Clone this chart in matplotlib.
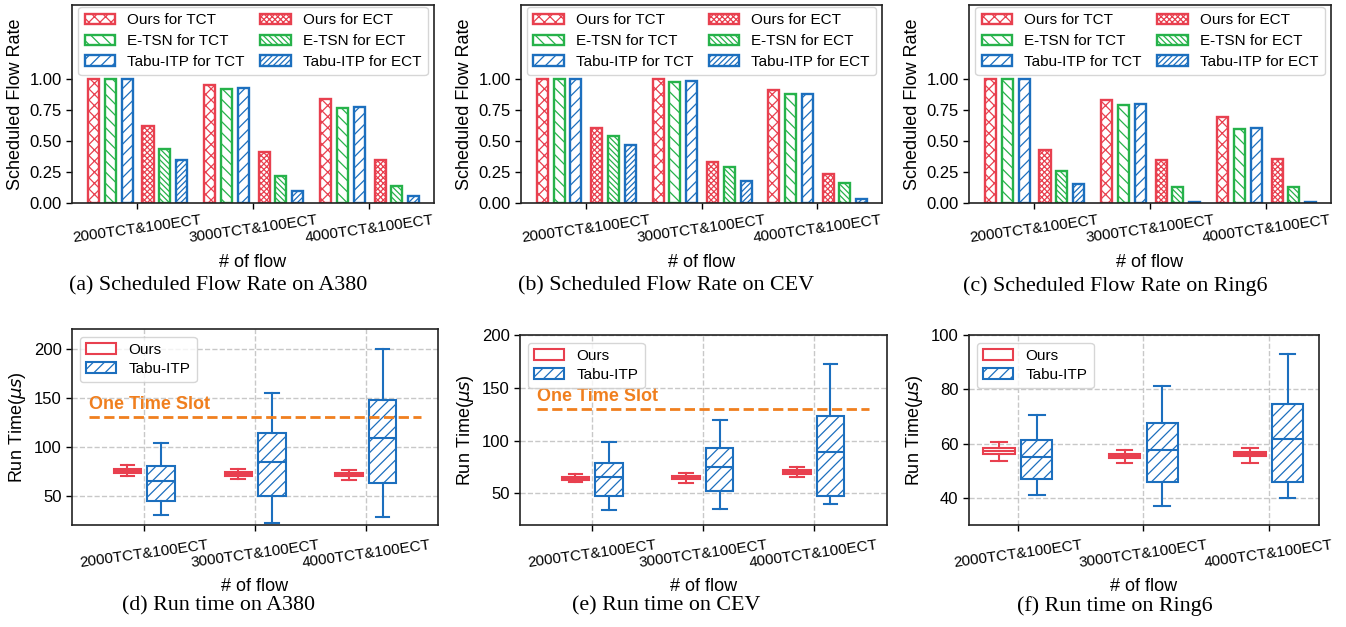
import matplotlib
matplotlib.use("Agg")
import matplotlib.pyplot as plt
from matplotlib.patches import Patch
import numpy as np

plt.rcParams['font.family'] = ['Liberation Sans', 'DejaVu Sans']
plt.rcParams['hatch.linewidth'] = 0.9

# ---------------- data ----------------
groups = ["2000TCT&100ECT", "3000TCT&100ECT", "4000TCT&100ECT"]
methods = ["Ours", "E-TSN", "Tabu-ITP"]

# Scheduled flow rate (TCT / ECT), per topology
a380_tct = {"Ours": [1.00, 0.954, 0.839], "E-TSN": [1.00, 0.925, 0.769], "Tabu-ITP": [1.00, 0.928, 0.777]}
a380_ect = {"Ours": [0.625, 0.410, 0.351], "E-TSN": [0.437, 0.217, 0.139], "Tabu-ITP": [0.349, 0.094, 0.054]}
cev_tct = {"Ours": [1.00, 1.00, 0.917], "E-TSN": [1.00, 0.981, 0.877], "Tabu-ITP": [1.00, 0.987, 0.882]}
cev_ect = {"Ours": [0.609, 0.330, 0.231], "E-TSN": [0.542, 0.287, 0.158], "Tabu-ITP": [0.472, 0.174, 0.032]}
ring_tct = {"Ours": [1.00, 0.836, 0.694], "E-TSN": [1.00, 0.791, 0.598], "Tabu-ITP": [1.00, 0.799, 0.603]}
ring_ect = {"Ours": [0.429, 0.346, 0.359], "E-TSN": [0.255, 0.126, 0.126], "Tabu-ITP": [0.155, 0.007, 0.007]}

# Run time box statistics: (whislo, q1, med, q3, whishi)
a380_ours = [(70.1, 73.2, 75.2, 77.3, 81.4), (67.4, 70.4, 72.1, 73.9, 77.3), (66.0, 69.8, 71.5, 72.8, 76.2)]
a380_tabu = [(29.9, 44.9, 64.6, 80.7, 103.9), (22.0, 49.3, 84.4, 113.4, 155.0), (28.2, 63.3, 109.0, 147.5, 200.0)]
cev_ours = [(60.4, 62.3, 63.9, 65.5, 68.6), (60.1, 63.3, 64.9, 66.7, 69.3), (65.5, 68.0, 69.9, 71.8, 74.6)]
cev_tabu = [(34.5, 47.5, 65.5, 78.7, 98.6), (35.2, 51.9, 75.0, 93.3, 119.2), (40.2, 47.2, 88.9, 123.6, 172.8)]
ring_ours = [(53.5, 56.1, 57.1, 58.2, 60.5), (52.8, 54.6, 55.5, 56.2, 57.6), (52.9, 55.3, 56.1, 57.0, 58.4)]
ring_tabu = [(41.0, 46.9, 54.9, 61.4, 70.5), (36.9, 45.9, 57.8, 67.4, 81.2), (40.1, 45.9, 61.6, 74.6, 93.0)]
time_slot = 130

captions_top = ["(a) Scheduled Flow Rate on A380", "(b) Scheduled Flow Rate on CEV", "(c) Scheduled Flow Rate on Ring6"]
captions_bot = ["(d) Run time on A380", "(e) Run time on CEV", "(f) Run time on Ring6"]

# ---------------- style ----------------
RED = '#E8404F'
GREEN = '#26B24A'
BLUE = '#1C6FBE'
ORANGE = '#F07F1E'
colors = {"Ours": RED, "E-TSN": GREEN, "Tabu-ITP": BLUE}
hatch_tct = {"Ours": 'xxx', "E-TSN": '\\\\\\', "Tabu-ITP": '///'}
hatch_ect = {"Ours": 'xxxxxx', "E-TSN": '\\\\\\\\\\\\', "Tabu-ITP": '//////'}
off_tct = [-0.375, -0.23, -0.085]
off_ect = [0.095, 0.24, 0.385]
caption_cx = [218, 666, 1115]

W, H = 1346, 627
fig = plt.figure(figsize=(W / 100, H / 100), dpi=100)


def add_ax(l, r, t, b):
    return fig.add_axes([l / W, 1 - b / H, (r - l) / W, (b - t) / H])


def style_ax(ax):
    for s in ax.spines.values():
        s.set_linewidth(1.2)
        s.set_color('#222222')
    ax.tick_params(axis='y', labelsize=12, length=4, width=1)
    ax.tick_params(axis='x', labelsize=11, length=4, width=1)


top_boxes = [(72, 434), (521, 882), (969, 1331)]
top_data = [(a380_tct, a380_ect), (cev_tct, cev_ect), (ring_tct, ring_ect)]
x = np.arange(len(groups))

for i, ((l, r), (tct, ect)) in enumerate(zip(top_boxes, top_data)):
    ax = add_ax(l, r, 5, 203)
    handles = []
    for j, m in enumerate(methods):
        h = ax.bar(x + off_tct[j], tct[m], width=0.095, facecolor='white',
                   edgecolor=colors[m], hatch=hatch_tct[m], linewidth=1.7,
                   label=f"{m} for TCT")
        handles.append(h)
    for j, m in enumerate(methods):
        h = ax.bar(x + off_ect[j], ect[m], width=0.095, facecolor='white',
                   edgecolor=colors[m], hatch=hatch_ect[m], linewidth=1.7,
                   label=f"{m} for ECT")
        handles.append(h)
    ax.set_xlim(-0.56, 2.56)
    ax.set_ylim(0, 1.6)
    ax.set_yticks([0, 0.25, 0.5, 0.75, 1.0])
    ax.set_yticklabels(["0.00", "0.25", "0.50", "0.75", "1.00"])
    ax.set_xticks(x)
    ax.set_xticklabels(groups, rotation=8, ha='center')
    ax.set_xlabel("# of flow", fontsize=13, labelpad=6)
    ax.set_ylabel("Scheduled Flow Rate", fontsize=13)
    style_ax(ax)
    ax.legend(handles=handles, ncol=2, loc='upper center', fontsize=11,
              borderaxespad=0.15, labelspacing=0.45, columnspacing=1.0,
              handletextpad=0.8, framealpha=0.8)
    fig.text(caption_cx[i] / W, 1 - 286 / H, captions_top[i], ha='center', va='center',
             fontsize=15.8, family='Liberation Serif')

bot_boxes = [(72, 438, 329), (520, 887, 335), (969, 1319, 335)]
bot_data = [(a380_ours, a380_tabu), (cev_ours, cev_tabu), (ring_ours, ring_tabu)]
bot_xlim = [(-0.65, 2.65), (-0.65, 2.66), (-0.39, 2.4)]
bot_ylim = [(20, 220), (20, 200), (30, 100)]
bot_yticks = [[50, 100, 150, 200], [50, 100, 150, 200], [40, 60, 80, 100]]
show_slot = [True, True, False]


def stats(lst):
    return [dict(whislo=s[0], q1=s[1], med=s[2], q3=s[3], whishi=s[4]) for s in lst]


for i, ((l, r, t), (ours, tabu)) in enumerate(zip(bot_boxes, bot_data)):
    ax = add_ax(l, r, t, 525)
    ax.grid(True, linestyle='--', color='#c8c8c8', linewidth=1.0, zorder=0)
    ax.set_axisbelow(True)
    for data, col, off, hatch in [(ours, RED, -0.15, None), (tabu, BLUE, 0.15, '///')]:
        ax.bxp(stats(data), positions=x + off, widths=0.25, patch_artist=True,
               showfliers=False,
               boxprops=dict(facecolor='white', edgecolor=col, linewidth=1.5, hatch=hatch),
               whiskerprops=dict(color=col, linewidth=1.5),
               capprops=dict(color=col, linewidth=1.5),
               medianprops=dict(color=col, linewidth=1.5))
    if show_slot[i]:
        ax.hlines(time_slot, -0.5, 2.5, colors=ORANGE, linestyles='--', linewidth=2, zorder=3)
        ax.text(-0.5, time_slot + 4, "One Time Slot", color=ORANGE, fontweight='bold',
                fontsize=13, ha='left', va='bottom')
    ax.set_xlim(*bot_xlim[i])
    ax.set_ylim(*bot_ylim[i])
    ax.set_yticks(bot_yticks[i])
    ax.set_xticks(x)
    ax.set_xticklabels(groups, rotation=8, ha='center')
    ax.set_xlabel("# of flow", fontsize=13, labelpad=6)
    ax.set_ylabel(r"Run Time($\mu s$)", fontsize=13)
    style_ax(ax)
    ax.tick_params(axis='x', pad=5.5)
    lh = [Patch(facecolor='white', edgecolor=RED, linewidth=1.5, label='Ours'),
          Patch(facecolor='white', edgecolor=BLUE, linewidth=1.5, hatch='///', label='Tabu-ITP')]
    ax.legend(handles=lh, loc='upper left', fontsize=11, labelspacing=0.35,
              handletextpad=0.8, framealpha=0.8)
    fig.text(caption_cx[i] / W, 1 - 606 / H, captions_bot[i], ha='center', va='center',
             fontsize=15.8, family='Liberation Serif')

fig.savefig("out.png", dpi=100)
